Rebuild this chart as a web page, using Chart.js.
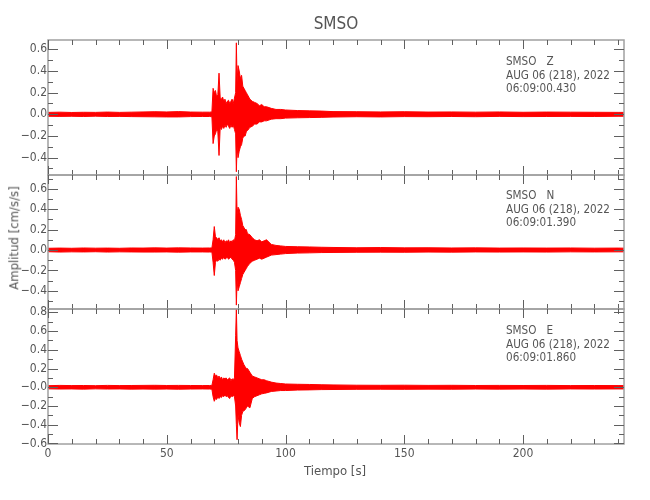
<!DOCTYPE html>
<html>
<head>
<meta charset="utf-8">
<script src="https://cdn.jsdelivr.net/npm/chart.js@4.4.1/dist/chart.umd.min.js"></script>
<style>
  body { margin: 0; background: #fff; }
  #wrap { position: relative; width: 650px; height: 500px; overflow: hidden;
    font-family: "Liberation Sans Narrow", "DejaVu Sans Condensed", "Liberation Sans", sans-serif; color: #555; }
  canvas { position: absolute; left: 0; }
  .txt { position: absolute; white-space: pre; line-height: 13.5px; font-size: 11.6px; }
</style>
</head>
<body>
<div id="wrap">
  <canvas id="panelZ" width="650" height="160" style="top:30px"></canvas>
  <canvas id="panelN" width="650" height="155" style="top:165px"></canvas>
  <canvas id="panelE" width="650" height="165" style="top:300px"></canvas>

  <div class="txt" style="left:0;width:672px;text-align:center;top:13px;font-size:17px;line-height:20px">SMSO</div>
  <div class="txt" style="left:506px;top:55px">SMSO   Z
AUG 06 (218), 2022
06:09:00.430</div>
  <div class="txt" style="left:506px;top:189px">SMSO   N
AUG 06 (218), 2022
06:09:01.390</div>
  <div class="txt" style="left:506px;top:324px">SMSO   E
AUG 06 (218), 2022
06:09:01.860</div>
  <div class="txt" style="left:-36px;top:233px;width:100px;text-align:center;transform:rotate(-90deg);font-size:13px">Amplitud [cm/s/s]</div>
  <div class="txt" style="left:285px;width:100px;text-align:center;top:464px;font-size:13px">Tiempo [s]</div>
</div>

<script>
/* TIEMPOS (s) DE LA ENVOLVENTE */
const tiempos = [0,5,10,15,20,25,30,35,40,45,50,55,60,65,68,69,
  69.5,70,70.5,71,71.5,72,72.5,73,73.5,74,74.5,75,75.5,76,76.5,77,77.5,78,78.5,79,
  79.3,79.6,
  80,80.5,81,81.5,82,82.5,83,83.5,84,
  85,86,87,88,89,90,91,92,
  94,96,98,100,
  105,110,115,120,
  130,140,150,160,170,180,190,200,210,220,230,240,
  242.5];

/* COMPONENTE Z */
const zSup = [0.018,0.02,0.017,0.019,0.018,0.021,0.018,0.02,0.022,0.024,0.022,0.025,0.021,0.02,0.02,0.022,
  0.24,0.2,0.22,0.16,0.18,0.38,0.15,0.14,0.16,0.12,0.14,0.1,0.12,0.13,0.1,0.12,0.14,0.1,0.15,0.2,
  0.66,0.3,
  0.45,0.4,0.33,0.36,0.26,0.24,0.22,0.2,0.18,
  0.14,0.12,0.11,0.1,0.08,0.09,0.07,0.07,
  0.055,0.045,0.045,0.04,
  0.035,0.032,0.03,0.025,
  0.024,0.022,0.024,0.021,0.022,0.02,0.022,0.019,0.021,0.02,0.019,0.018,
  0.018];
const zInf = [-0.018,-0.019,-0.018,-0.02,-0.017,-0.02,-0.019,-0.021,-0.022,-0.023,-0.024,-0.024,-0.021,-0.02,-0.02,-0.022,
  -0.27,-0.2,-0.18,-0.14,-0.16,-0.38,-0.12,-0.14,-0.11,-0.13,-0.1,-0.12,-0.09,-0.11,-0.13,-0.1,-0.12,-0.1,-0.14,-0.18,
  -0.53,-0.3,
  -0.4,-0.34,-0.3,-0.28,-0.22,-0.2,-0.2,-0.16,-0.15,
  -0.12,-0.11,-0.09,-0.09,-0.07,-0.07,-0.06,-0.06,
  -0.045,-0.04,-0.04,-0.035,
  -0.032,-0.03,-0.028,-0.025,
  -0.022,-0.024,-0.021,-0.022,-0.02,-0.022,-0.019,-0.021,-0.02,-0.019,-0.02,-0.018,
  -0.018];

/* COMPONENTE N */
const nSup = [0.017,0.019,0.017,0.02,0.018,0.019,0.017,0.02,0.019,0.021,0.019,0.021,0.02,0.019,0.02,0.02,
  0.1,0.23,0.13,0.12,0.1,0.12,0.09,0.1,0.08,0.1,0.07,0.09,0.08,0.1,0.07,0.09,0.08,0.1,0.09,0.15,
  0.72,0.35,
  0.42,0.4,0.34,0.3,0.24,0.22,0.2,0.2,0.16,
  0.15,0.12,0.1,0.09,0.1,0.08,0.09,0.1,
  0.055,0.045,0.04,0.035,
  0.032,0.03,0.027,0.025,
  0.022,0.024,0.021,0.022,0.02,0.021,0.019,0.02,0.019,0.02,0.018,0.019,
  0.018];
const nInf = [-0.017,-0.02,-0.018,-0.019,-0.017,-0.02,-0.018,-0.019,-0.02,-0.02,-0.019,-0.021,-0.019,-0.019,-0.02,-0.02,
  -0.12,-0.25,-0.12,-0.1,-0.11,-0.09,-0.1,-0.08,-0.09,-0.07,-0.09,-0.08,-0.07,-0.09,-0.08,-0.07,-0.09,-0.1,-0.12,-0.2,
  -0.54,-0.3,
  -0.4,-0.36,-0.32,-0.28,-0.24,-0.22,-0.2,-0.18,-0.16,
  -0.13,-0.11,-0.1,-0.09,-0.08,-0.09,-0.08,-0.07,
  -0.05,-0.045,-0.04,-0.035,
  -0.03,-0.028,-0.025,-0.024,
  -0.022,-0.021,-0.022,-0.02,-0.021,-0.019,-0.02,-0.019,-0.02,-0.018,-0.019,-0.018,
  -0.018];

/* COMPONENTE E */
const eSup = [0.017,0.02,0.018,0.019,0.017,0.02,0.018,0.019,0.02,0.021,0.019,0.02,0.019,0.018,0.019,0.02,
  0.08,0.15,0.12,0.13,0.1,0.12,0.09,0.11,0.08,0.1,0.09,0.1,0.08,0.09,0.1,0.07,0.09,0.08,0.1,0.55,
  0.84,0.5,
  0.42,0.38,0.34,0.3,0.27,0.24,0.22,0.2,0.2,
  0.16,0.12,0.11,0.1,0.09,0.08,0.08,0.07,
  0.055,0.045,0.04,0.035,
  0.032,0.03,0.027,0.025,
  0.022,0.021,0.022,0.02,0.021,0.019,0.02,0.019,0.02,0.018,0.019,0.018,
  0.018];
const eInf = [-0.017,-0.019,-0.018,-0.02,-0.017,-0.019,-0.018,-0.02,-0.019,-0.02,-0.019,-0.021,-0.019,-0.018,-0.019,-0.02,
  -0.1,-0.15,-0.12,-0.13,-0.1,-0.12,-0.1,-0.11,-0.09,-0.1,-0.08,-0.1,-0.09,-0.11,-0.12,-0.09,-0.1,-0.09,-0.1,-0.2,
  -0.4,-0.56,
  -0.3,-0.38,-0.42,-0.3,-0.26,-0.25,-0.24,-0.22,-0.2,
  -0.22,-0.12,-0.1,-0.09,-0.08,-0.07,-0.065,-0.06,
  -0.045,-0.04,-0.035,-0.035,
  -0.03,-0.028,-0.025,-0.024,
  -0.022,-0.021,-0.022,-0.02,-0.021,-0.019,-0.02,-0.019,-0.02,-0.018,-0.019,-0.018,
  -0.018];

/* ETIQUETAS DEL EJE X */
const ticksX = [0, 50, 100, 150, 200];

const FUENTE = '"Liberation Sans Narrow", "DejaVu Sans Condensed", "Liberation Sans", sans-serif';
const ROJO = '#ff0000';

function puntos(arr) {
  return tiempos.map((t, i) => ({ x: t, y: arr[i] }));
}

// marco con marcas hacia dentro en los cuatro lados
const marcoPlugin = {
  id: 'marco',
  afterDraw(chart) {
    const { ctx, chartArea: a, scales: { x, y } } = chart;
    ctx.save();
    ctx.strokeStyle = '#a0a0a0';
    ctx.lineWidth = 1.5;
    ctx.strokeRect(a.left, a.top, a.right - a.left, a.bottom - a.top);
    ctx.strokeStyle = '#606060';
    ctx.lineWidth = 1;
    ctx.beginPath();
    for (let t = 0; t <= x.max; t += 10) {
      const px = Math.round(x.getPixelForValue(t)) + 0.5;
      const len = t % 50 === 0 ? 9 : 5;
      ctx.moveTo(px, a.top); ctx.lineTo(px, a.top + len);
      ctx.moveTo(px, a.bottom); ctx.lineTo(px, a.bottom - len);
    }
    for (let k = Math.ceil(y.min * 10); k <= Math.floor(y.max * 10); k++) {
      const py = Math.round(y.getPixelForValue(k / 10)) + 0.5;
      const len = k % 2 === 0 ? 10 : 5;
      ctx.moveTo(a.left, py); ctx.lineTo(a.left + len, py);
      ctx.moveTo(a.right, py); ctx.lineTo(a.right - len, py);
    }
    ctx.stroke();
    ctx.restore();
  }
};

function renderPanel(id, sup, inf, yMin, yMax, padTop, padBottom, conEjeX, ceroNegativo) {
  const ctx = document.getElementById(id).getContext('2d');
  return new Chart(ctx, {
    type: 'line',
    data: {
      datasets: [
        { data: puntos(sup), borderColor: ROJO, borderWidth: 1, pointRadius: 0, fill: false },
        { data: puntos(inf), borderColor: ROJO, borderWidth: 1, pointRadius: 0, fill: '-1', backgroundColor: ROJO },
      ],
    },
    options: {
      responsive: false,
      animation: false,
      layout: { padding: { top: padTop, bottom: padBottom, left: 0, right: 26 } },
      elements: { line: { tension: 0 } },
      plugins: { legend: { display: false }, tooltip: { enabled: false } },
      scales: {
        x: {
          type: 'linear',
          min: 0,
          max: 242.5,
          display: conEjeX,
          grid: { display: false, drawTicks: false },
          border: { display: false },
          afterBuildTicks: (s) => { s.ticks = ticksX.map(v => ({ value: v })); },
          afterFit: (s) => { s.height = conEjeX ? 16 : 0; },
          ticks: { color: '#555', font: { family: FUENTE, size: 12 }, padding: 3, maxRotation: 0, autoSkip: false },
        },
        y: {
          min: yMin,
          max: yMax,
          grid: { display: false, drawTicks: false },
          border: { display: false },
          afterFit: (s) => { s.width = 48; },
          ticks: {
            stepSize: 0.2,
            includeBounds: false,
            padding: 1,
            color: '#555',
            font: { family: FUENTE, size: 12 },
            callback: (v) => {
              let s = Math.abs(v) < 1e-9 ? (ceroNegativo ? '-0.0' : '0.0') : v.toFixed(1);
              return s.replace('-', '\u2212');
            },
          },
        },
      },
    },
    plugins: [marcoPlugin],
  });
}

/* INIT */
renderPanel('panelZ', zSup, zInf, -0.56, 0.686, 10, 15, false, false);
renderPanel('panelN', nSup, nInf, -0.578, 0.735, 10, 11, false, false);
renderPanel('panelE', eSup, eInf, -0.606, 0.836, 9, 5, true, true);
</script>
</body>
</html>
